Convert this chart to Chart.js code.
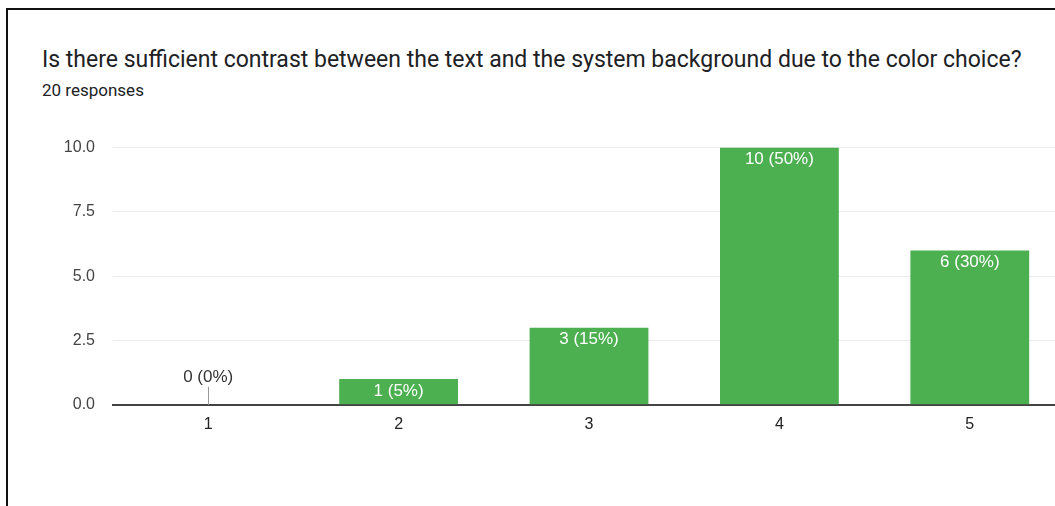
<!DOCTYPE html>
<html>
<head>
<meta charset="utf-8">
<script src="https://cdn.jsdelivr.net/npm/chart.js@4.4.1/dist/chart.umd.min.js"></script>
<style>
  html, body { margin: 0; padding: 0; background: #fff; overflow: hidden; width: 1055px; height: 506px; }
  .frame { position: absolute; left: 6px; top: 8px; width: 1200px; height: 600px; border: 2px solid #111; box-sizing: border-box; }
  .title { position: absolute; left: 42px; top: 46px; font-family: Roboto, "Noto Sans", sans-serif; font-size: 23px; color: #202124; white-space: nowrap; }
  .sub { position: absolute; left: 42px; top: 80px; font-family: Roboto, "Noto Sans", sans-serif; font-size: 17px; color: #202124; }
  .wrap { position: absolute; left: 0; top: 120px; width: 1065px; height: 316px; }
</style>
</head>
<body>
<div class="frame"></div>
<div class="title">Is there sufficient contrast between the text and the system background due to the color choice?</div>
<div class="sub">20 responses</div>
<div class="wrap"><canvas id="chart"></canvas></div>
<script>
const categories = ["1", "2", "3", "4", "5"];
const counts = [0, 1, 3, 10, 6];
const valueLabels = ["0 (0%)", "1 (5%)", "3 (15%)", "10 (50%)", "6 (30%)"];
const yTicks = [0, 2.5, 5, 7.5, 10];

const tickFont = { family: "Arial, 'Liberation Sans', sans-serif", size: 16 };

// draws the "n (x%)" labels inside the bars, or above with a small stem for zero
const barLabels = {
  id: "barLabels",
  afterDatasetsDraw(chart) {
    const ctx = chart.ctx;
    const meta = chart.getDatasetMeta(0);
    const yScale = chart.scales.y;
    ctx.save();
    ctx.font = "17px Arial, 'Liberation Sans', sans-serif";
    ctx.textAlign = "center";
    ctx.textBaseline = "middle";
    meta.data.forEach((bar, i) => {
      if (counts[i] === 0) {
        const base = yScale.getPixelForValue(0);
        ctx.strokeStyle = "#999";
        ctx.lineWidth = 1;
        ctx.beginPath();
        ctx.moveTo(Math.round(bar.x) + 0.5, base);
        ctx.lineTo(Math.round(bar.x) + 0.5, base - 18);
        ctx.stroke();
        ctx.fillStyle = "#333";
        ctx.fillText(valueLabels[i], bar.x, base - 27);
      } else {
        ctx.fillStyle = "#fff";
        ctx.fillText(valueLabels[i], bar.x, bar.y + 12);
      }
    });
    ctx.restore();
  }
};

new Chart(document.getElementById("chart"), {
  type: "bar",
  data: {
    labels: categories,
    datasets: [{
      data: counts,
      backgroundColor: "#4caf50",
      borderWidth: 0,
      barPercentage: 0.78,
      categoryPercentage: 0.8
    }]
  },
  options: {
    responsive: true,
    maintainAspectRatio: false,
    animation: false,
    layout: { padding: { top: 7, right: 0, bottom: 0, left: 0 } },
    plugins: { legend: { display: false }, tooltip: { enabled: false } },
    scales: {
      x: {
        grid: { display: false },
        border: { display: true, color: "#444", width: 2 },
        ticks: { color: "#222", font: tickFont, padding: 2 }
      },
      y: {
        min: 0,
        max: 10,
        afterFit(scale) { scale.width = 113; },
        afterBuildTicks(scale) { scale.ticks = yTicks.map(v => ({ value: v })); },
        grid: { color: "#ebebeb", lineWidth: 1, drawTicks: false },
        border: { display: false },
        ticks: {
          color: "#444",
          font: tickFont,
          padding: 18,
          callback: v => v.toFixed(1)
        }
      }
    }
  },
  plugins: [barLabels]
});
</script>
</body>
</html>
